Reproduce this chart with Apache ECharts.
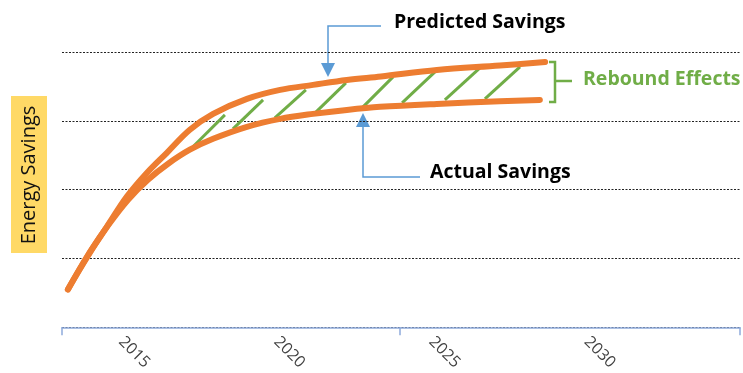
<!DOCTYPE html>
<html>
<head>
<meta charset="utf-8">
<script src="https://cdn.jsdelivr.net/npm/echarts@6/dist/echarts.min.js"></script>
<style>
  html, body { margin: 0; padding: 0; background: #fff; }
  #chart { width: 743px; height: 373px; }
</style>
</head>
<body>
<div id="chart"></div>
<script>
// Year labels shown on the time axis
const yearLabels = [2015, 2020, 2025, 2030];
// Axis range (years) and the three tick marks on the baseline
const yearMin = 2013.09;
const yearMax = 2034.94;
const axisTickYears = [2013.09, 2023.98, 2034.94];

// Predicted savings curve
const predictedYears  = [2013.28, 2013.90, 2014.54, 2015.18, 2015.83, 2016.47, 2017.21, 2017.96, 2019.05, 2020.12, 2021.18, 2022.27, 2023.37, 2025.17, 2027.20, 2028.66];
const predictedValues = [0.551, 1.029, 1.464, 1.899, 2.246, 2.536, 2.870, 3.101, 3.319, 3.449, 3.522, 3.594, 3.645, 3.739, 3.804, 3.855];

// Actual savings curve
const actualYears  = [2013.28, 2013.93, 2014.57, 2015.22, 2015.86, 2016.51, 2017.21, 2017.96, 2019.05, 2020.12, 2021.18, 2022.27, 2023.34, 2025.17, 2027.20, 2028.49];
const actualValues = [0.551, 1.043, 1.478, 1.855, 2.145, 2.377, 2.580, 2.739, 2.913, 3.029, 3.101, 3.159, 3.203, 3.246, 3.283, 3.304];

// Hatching between the curves (rebound gap)
const hatchStartYear  = [2017.31, 2018.60, 2019.95, 2021.28, 2022.76, 2024.05, 2025.43, 2026.72];
const hatchStartValue = [2.623, 2.884, 3.043, 3.130, 3.188, 3.261, 3.304, 3.319];
const hatchEndYear    = [2018.34, 2019.57, 2020.95, 2022.24, 2023.76, 2025.11, 2026.56, 2027.85];
const hatchEndValue   = [3.087, 3.304, 3.449, 3.551, 3.638, 3.710, 3.768, 3.783];

const ORANGE = '#ED7D31';
const GREEN = '#70AD47';
const BLUE = '#5B9BD5';
const FONT = '"Open Sans", "Noto Sans", sans-serif';

const zip = (xs, ys) => xs.map((x, i) => [x, ys[i]]);

const chart = echarts.init(document.getElementById('chart'), null, { renderer: 'canvas' });

const curveStyle = { color: ORANGE, width: 6, cap: 'round', join: 'round' };

chart.setOption({
  animation: false,
  grid: { left: 62, right: 3, top: 52, bottom: 45 },
  xAxis: {
    type: 'value',
    min: yearMin,
    max: yearMax,
    axisLine: { show: true, lineStyle: { color: '#8EAADB', width: 1.5 } },
    axisTick: { show: true, customValues: axisTickYears, length: 8, lineStyle: { color: '#8EAADB', width: 1.5 } },
    axisLabel: {
      customValues: yearLabels,
      rotate: -45,
      margin: 12,
      color: '#404040',
      fontSize: 16,
      fontFamily: FONT,
      formatter: v => String(Math.round(v))
    },
    splitLine: { show: false }
  },
  yAxis: {
    type: 'value',
    min: 0,
    max: 4,
    interval: 1,
    axisLine: { show: false },
    axisTick: { show: false },
    axisLabel: { show: false },
    splitLine: { show: true, lineStyle: { color: '#222', width: 1, type: [2, 1.5] } }
  },
  series: [
    {
      type: 'lines',
      coordinateSystem: 'cartesian2d',
      z: 1,
      lineStyle: { color: GREEN, width: 3, opacity: 1 },
      data: hatchStartYear.map((y, i) => ({
        coords: [[y, hatchStartValue[i]], [hatchEndYear[i], hatchEndValue[i]]]
      }))
    },
    {
      name: 'Actual Savings',
      type: 'line',
      z: 3,
      smooth: 0.35,
      symbol: 'none',
      lineStyle: curveStyle,
      data: zip(actualYears, actualValues)
    },
    {
      name: 'Predicted Savings',
      type: 'line',
      z: 3,
      smooth: 0.35,
      symbol: 'none',
      lineStyle: curveStyle,
      data: zip(predictedYears, predictedValues)
    }
  ],
  graphic: [
    // Y-axis title on a yellow tab
    { type: 'rect', shape: { x: 11, y: 96, width: 36, height: 157 }, style: { fill: '#FFD966' } },
    {
      type: 'text', x: 29, y: 175, rotation: Math.PI / 2,
      style: { text: 'Energy Savings', fill: '#111', font: '20px ' + FONT, align: 'center', verticalAlign: 'middle' }
    },
    // Predicted savings callout
    { type: 'polyline', shape: { points: [[381, 26], [328, 26], [328, 64]] }, style: { stroke: BLUE, lineWidth: 1.5, fill: null } },
    { type: 'polygon', shape: { points: [[321, 63], [335, 63], [328, 77]] }, style: { fill: BLUE } },
    {
      type: 'text', x: 394, y: 22,
      style: { text: 'Predicted Savings', fill: '#000', font: 'bold 19.5px ' + FONT, align: 'left', verticalAlign: 'middle' }
    },
    // Actual savings callout
    { type: 'polyline', shape: { points: [[420, 177], [363, 177], [363, 126]] }, style: { stroke: BLUE, lineWidth: 1.5, fill: null } },
    { type: 'polygon', shape: { points: [[356, 127], [370, 127], [363, 113]] }, style: { fill: BLUE } },
    {
      type: 'text', x: 430, y: 172,
      style: { text: 'Actual Savings', fill: '#000', font: 'bold 19.5px ' + FONT, align: 'left', verticalAlign: 'middle' }
    },
    // Rebound effects bracket
    { type: 'polyline', shape: { points: [[549, 62], [555, 62], [555, 102], [549, 102]] }, style: { stroke: GREEN, lineWidth: 2.5, fill: null } },
    { type: 'line', shape: { x1: 555, y1: 81, x2: 572, y2: 81 }, style: { stroke: GREEN, lineWidth: 2.5 } },
    {
      type: 'text', x: 583, y: 79,
      style: { text: 'Rebound Effects', fill: GREEN, font: 'bold 19.5px ' + FONT, align: 'left', verticalAlign: 'middle' }
    }
  ]
});
</script>
</body>
</html>
